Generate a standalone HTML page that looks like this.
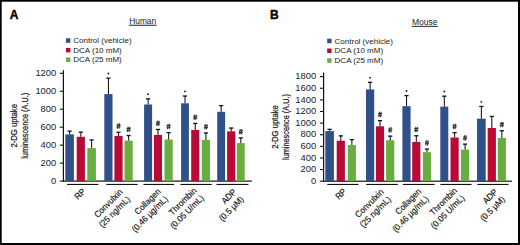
<!DOCTYPE html>
<html><head><meta charset="utf-8"><style>
html,body{margin:0;padding:0;background:#fff;width:520px;height:245px;overflow:hidden;}
svg{display:block;}
text{font-family:"Liberation Sans",sans-serif;}
</style></head><body>
<svg width="520" height="245" viewBox="0 0 520 245">
<rect width="520" height="245" fill="#fff"/>
<text x="9.8" y="19" font-size="12" font-weight="bold" fill="#000" stroke="#000" stroke-width="0.35">A</text>
<text x="129.2" y="24.2" font-size="8.4" fill="#222">Human</text>
<rect x="129" y="24.75" width="27.6" height="1" fill="#222"/>
<rect x="66" y="38.3" width="4.4" height="4.5" fill="#30508a"/>
<text x="73.3" y="43.2" font-size="8" fill="#222">Control (vehicle)</text>
<rect x="66" y="47.9" width="4.4" height="4.5" fill="#b90a35"/>
<text x="73.3" y="52.8" font-size="8" fill="#222">DCA (10 mM)</text>
<rect x="66" y="57.5" width="4.4" height="4.5" fill="#69ac3f"/>
<text x="73.3" y="62.4" font-size="8" fill="#222">DCA (25 mM)</text>
<rect x="62.8" y="70.2" width="1.2" height="111.5" fill="#111"/>
<rect x="59.8" y="180.55" width="3.6" height="1.1" fill="#111"/>
<text transform="translate(56.3,183.8) scale(1.08,1)" font-size="8.7" fill="#222" text-anchor="end">0</text>
<rect x="59.8" y="162.58" width="3.6" height="1.1" fill="#111"/>
<text transform="translate(56.3,165.83) scale(1.08,1)" font-size="8.7" fill="#222" text-anchor="end">200</text>
<rect x="59.8" y="144.61" width="3.6" height="1.1" fill="#111"/>
<text transform="translate(56.3,147.86) scale(1.08,1)" font-size="8.7" fill="#222" text-anchor="end">400</text>
<rect x="59.8" y="126.64" width="3.6" height="1.1" fill="#111"/>
<text transform="translate(56.3,129.89) scale(1.08,1)" font-size="8.7" fill="#222" text-anchor="end">600</text>
<rect x="59.8" y="108.67" width="3.6" height="1.1" fill="#111"/>
<text transform="translate(56.3,111.92) scale(1.08,1)" font-size="8.7" fill="#222" text-anchor="end">800</text>
<rect x="59.8" y="90.7" width="3.6" height="1.1" fill="#111"/>
<text transform="translate(56.3,93.95) scale(1.08,1)" font-size="8.7" fill="#222" text-anchor="end">1000</text>
<rect x="59.8" y="72.73" width="3.6" height="1.1" fill="#111"/>
<text transform="translate(56.3,75.98) scale(1.08,1)" font-size="8.7" fill="#222" text-anchor="end">1200</text>
<rect x="62.8" y="180.5" width="189" height="1.2" fill="#111"/>
<text transform="translate(16.7,125.8) rotate(-90)" font-size="8.4" fill="#111" stroke="#111" stroke-width="0.2" text-anchor="middle" textLength="43.5" lengthAdjust="spacingAndGlyphs">2-DG uptake</text>
<text transform="translate(28,125.8) rotate(-90)" font-size="8.4" fill="#111" stroke="#111" stroke-width="0.2" text-anchor="middle" textLength="66" lengthAdjust="spacingAndGlyphs">luminescence (A.U.)</text>
<rect x="65.3" y="134.4" width="8.6" height="46.7" fill="#30508a"/>
<rect x="69.1" y="131.1" width="1.05" height="3.3" fill="#111"/>
<rect x="67.5" y="130.5" width="4.2" height="1.3" fill="#111"/>
<rect x="76.7" y="136.8" width="8.2" height="44.3" fill="#b90a35"/>
<rect x="80.3" y="132.1" width="1.05" height="4.7" fill="#111"/>
<rect x="78.7" y="131.5" width="4.2" height="1.3" fill="#111"/>
<rect x="87.3" y="148.1" width="8.6" height="33" fill="#69ac3f"/>
<rect x="91.1" y="139.9" width="1.05" height="8.2" fill="#111"/>
<rect x="89.5" y="139.3" width="4.2" height="1.3" fill="#111"/>
<rect x="104.3" y="94.1" width="8.2" height="87" fill="#30508a"/>
<rect x="107.9" y="78.1" width="1.05" height="16" fill="#111"/>
<rect x="106.3" y="77.5" width="4.2" height="1.3" fill="#111"/>
<circle cx="108.4" cy="73.5" r="0.9" fill="#111"/>
<rect x="114.4" y="135.9" width="8.2" height="45.2" fill="#b90a35"/>
<rect x="118" y="132.2" width="1.05" height="3.7" fill="#111"/>
<rect x="116.4" y="131.6" width="4.2" height="1.3" fill="#111"/>
<path d="M118,123.4L117.4,128.7M119.6,123.4L119,128.7M116.5,125.1H120.6M116.4,126.9H120.5" stroke="#333" stroke-width="1.05" fill="none"/>
<rect x="124.5" y="140.6" width="8.2" height="40.5" fill="#69ac3f"/>
<rect x="128.1" y="135.5" width="1.05" height="5.1" fill="#111"/>
<rect x="126.5" y="134.9" width="4.2" height="1.3" fill="#111"/>
<path d="M128.1,126.7L127.5,132M129.7,126.7L129.1,132M126.6,128.4H130.7M126.5,130.2H130.6" stroke="#333" stroke-width="1.05" fill="none"/>
<rect x="144.1" y="104.5" width="8" height="76.6" fill="#30508a"/>
<rect x="147.6" y="98.8" width="1.05" height="5.7" fill="#111"/>
<rect x="146" y="98.2" width="4.2" height="1.3" fill="#111"/>
<circle cx="148.1" cy="94.2" r="0.9" fill="#111"/>
<rect x="153.9" y="134.9" width="8.1" height="46.2" fill="#b90a35"/>
<rect x="157.45" y="129.4" width="1.05" height="5.5" fill="#111"/>
<rect x="155.85" y="128.8" width="4.2" height="1.3" fill="#111"/>
<path d="M157.45,120.6L156.85,125.9M159.05,120.6L158.45,125.9M155.95,122.3H160.05M155.85,124.1H159.95" stroke="#333" stroke-width="1.05" fill="none"/>
<rect x="164.5" y="139.5" width="8.2" height="41.6" fill="#69ac3f"/>
<rect x="168.1" y="132.6" width="1.05" height="6.9" fill="#111"/>
<rect x="166.5" y="132" width="4.2" height="1.3" fill="#111"/>
<path d="M168.1,123.8L167.5,129.1M169.7,123.8L169.1,129.1M166.6,125.5H170.7M166.5,127.3H170.6" stroke="#333" stroke-width="1.05" fill="none"/>
<rect x="181.1" y="103.3" width="7.8" height="77.8" fill="#30508a"/>
<rect x="184.5" y="96" width="1.05" height="7.3" fill="#111"/>
<rect x="182.9" y="95.4" width="4.2" height="1.3" fill="#111"/>
<circle cx="185" cy="91.4" r="0.9" fill="#111"/>
<rect x="191.2" y="129.9" width="8.1" height="51.2" fill="#b90a35"/>
<rect x="194.75" y="123.4" width="1.05" height="6.5" fill="#111"/>
<rect x="193.15" y="122.8" width="4.2" height="1.3" fill="#111"/>
<path d="M194.75,114.6L194.15,119.9M196.35,114.6L195.75,119.9M193.25,116.3H197.35M193.15,118.1H197.25" stroke="#333" stroke-width="1.05" fill="none"/>
<rect x="201.8" y="139.9" width="8.3" height="41.2" fill="#69ac3f"/>
<rect x="205.45" y="132.9" width="1.05" height="7" fill="#111"/>
<rect x="203.85" y="132.3" width="4.2" height="1.3" fill="#111"/>
<path d="M205.45,124.1L204.85,129.4M207.05,124.1L206.45,129.4M203.95,125.8H208.05M203.85,127.6H207.95" stroke="#333" stroke-width="1.05" fill="none"/>
<rect x="217.2" y="111.8" width="7.9" height="69.3" fill="#30508a"/>
<rect x="220.65" y="105.6" width="1.05" height="6.2" fill="#111"/>
<rect x="219.05" y="105" width="4.2" height="1.3" fill="#111"/>
<rect x="227.1" y="131.3" width="8.2" height="49.8" fill="#b90a35"/>
<rect x="230.7" y="128" width="1.05" height="3.3" fill="#111"/>
<rect x="229.1" y="127.4" width="4.2" height="1.3" fill="#111"/>
<rect x="236.9" y="143.1" width="7.8" height="38" fill="#69ac3f"/>
<rect x="240.3" y="137.9" width="1.05" height="5.2" fill="#111"/>
<rect x="238.7" y="137.3" width="4.2" height="1.3" fill="#111"/>
<path d="M240.3,129.1L239.7,134.4M241.9,129.1L241.3,134.4M238.8,130.8H242.9M238.7,132.6H242.8" stroke="#333" stroke-width="1.05" fill="none"/>
<rect x="67" y="183.9" width="31.5" height="1.1" fill="#111"/>
<rect x="106.3" y="183.9" width="31.4" height="1.1" fill="#111"/>
<rect x="143.5" y="183.9" width="30.7" height="1.1" fill="#111"/>
<rect x="180.4" y="183.9" width="31.3" height="1.1" fill="#111"/>
<rect x="216.5" y="183.9" width="31.9" height="1.1" fill="#111"/>
<text transform="translate(86.05,192) rotate(-45) scale(0.94,1)" font-size="8.8" fill="#111" stroke="#111" stroke-width="0.15" text-anchor="end"><tspan x="0" y="0">RP</tspan></text>
<text transform="translate(123.3,192.5) rotate(-45) scale(0.94,1)" font-size="8.8" fill="#111" stroke="#111" stroke-width="0.15" text-anchor="end"><tspan x="0" y="0">Convulxin</tspan><tspan x="0" y="10.4">(25 ng/mL)</tspan></text>
<text transform="translate(161.15,192.1) rotate(-45) scale(0.94,1)" font-size="8.8" fill="#111" stroke="#111" stroke-width="0.15" text-anchor="end"><tspan x="0" y="0">Collagen</tspan><tspan x="0" y="10.4">(0.46 µg/mL)</tspan></text>
<text transform="translate(197.15,191.2) rotate(-45) scale(0.94,1)" font-size="8.8" fill="#111" stroke="#111" stroke-width="0.15" text-anchor="end"><tspan x="0" y="0">Thrombin</tspan><tspan x="0" y="10.4">(0.05 U/mL)</tspan></text>
<text transform="translate(236.95,192.5) rotate(-45) scale(0.94,1)" font-size="8.8" fill="#111" stroke="#111" stroke-width="0.15" text-anchor="end"><tspan x="0" y="0">ADP</tspan><tspan x="0" y="10.4">(0.5 µM)</tspan></text>
<text x="269.9" y="19.4" font-size="12" font-weight="bold" fill="#000" stroke="#000" stroke-width="0.35">B</text>
<text x="412" y="25.1" font-size="8.5" fill="#222">Mouse</text>
<rect x="411.8" y="25.85" width="26" height="1" fill="#222"/>
<rect x="327.2" y="38.7" width="4.4" height="4.5" fill="#30508a"/>
<text x="334.6" y="43.6" font-size="8" fill="#222">Control (vehicle)</text>
<rect x="327.2" y="48.5" width="4.4" height="4.5" fill="#b90a35"/>
<text x="334.6" y="53.4" font-size="8" fill="#222">DCA (10 mM)</text>
<rect x="327.2" y="58.3" width="4.4" height="4.5" fill="#69ac3f"/>
<text x="334.6" y="63.2" font-size="8" fill="#222">DCA (25 mM)</text>
<rect x="323" y="72.6" width="1.2" height="109.2" fill="#111"/>
<rect x="320" y="180.65" width="3.6" height="1.1" fill="#111"/>
<text transform="translate(316.2,183.9) scale(1.08,1)" font-size="8.7" fill="#222" text-anchor="end">0</text>
<rect x="320" y="169.03" width="3.6" height="1.1" fill="#111"/>
<text transform="translate(316.2,172.28) scale(1.08,1)" font-size="8.7" fill="#222" text-anchor="end">200</text>
<rect x="320" y="157.41" width="3.6" height="1.1" fill="#111"/>
<text transform="translate(316.2,160.66) scale(1.08,1)" font-size="8.7" fill="#222" text-anchor="end">400</text>
<rect x="320" y="145.79" width="3.6" height="1.1" fill="#111"/>
<text transform="translate(316.2,149.04) scale(1.08,1)" font-size="8.7" fill="#222" text-anchor="end">600</text>
<rect x="320" y="134.17" width="3.6" height="1.1" fill="#111"/>
<text transform="translate(316.2,137.42) scale(1.08,1)" font-size="8.7" fill="#222" text-anchor="end">800</text>
<rect x="320" y="122.55" width="3.6" height="1.1" fill="#111"/>
<text transform="translate(316.2,125.8) scale(1.08,1)" font-size="8.7" fill="#222" text-anchor="end">1000</text>
<rect x="320" y="110.93" width="3.6" height="1.1" fill="#111"/>
<text transform="translate(316.2,114.18) scale(1.08,1)" font-size="8.7" fill="#222" text-anchor="end">1200</text>
<rect x="320" y="99.31" width="3.6" height="1.1" fill="#111"/>
<text transform="translate(316.2,102.56) scale(1.08,1)" font-size="8.7" fill="#222" text-anchor="end">1400</text>
<rect x="320" y="87.69" width="3.6" height="1.1" fill="#111"/>
<text transform="translate(316.2,90.94) scale(1.08,1)" font-size="8.7" fill="#222" text-anchor="end">1600</text>
<rect x="320" y="76.07" width="3.6" height="1.1" fill="#111"/>
<text transform="translate(316.2,79.32) scale(1.08,1)" font-size="8.7" fill="#222" text-anchor="end">1800</text>
<rect x="322.8" y="180.6" width="189.2" height="1.2" fill="#111"/>
<text transform="translate(277.6,127) rotate(-90)" font-size="8.4" fill="#111" stroke="#111" stroke-width="0.2" text-anchor="middle" textLength="43.5" lengthAdjust="spacingAndGlyphs">2-DG uptake</text>
<text transform="translate(288.5,127) rotate(-90)" font-size="8.4" fill="#111" stroke="#111" stroke-width="0.2" text-anchor="middle" textLength="66" lengthAdjust="spacingAndGlyphs">luminescence (A.U.)</text>
<rect x="325.3" y="131.1" width="8.6" height="50.1" fill="#30508a"/>
<rect x="329.1" y="129.3" width="1.05" height="1.8" fill="#111"/>
<rect x="327.5" y="128.7" width="4.2" height="1.3" fill="#111"/>
<rect x="336.7" y="140.7" width="8.2" height="40.5" fill="#b90a35"/>
<rect x="340.3" y="135.8" width="1.05" height="4.9" fill="#111"/>
<rect x="338.7" y="135.2" width="4.2" height="1.3" fill="#111"/>
<rect x="347.8" y="145" width="8.1" height="36.2" fill="#69ac3f"/>
<rect x="351.35" y="139.6" width="1.05" height="5.4" fill="#111"/>
<rect x="349.75" y="139" width="4.2" height="1.3" fill="#111"/>
<rect x="366" y="89.4" width="8.2" height="91.8" fill="#30508a"/>
<rect x="369.6" y="82.3" width="1.05" height="7.1" fill="#111"/>
<rect x="368" y="81.7" width="4.2" height="1.3" fill="#111"/>
<circle cx="370.1" cy="77.7" r="0.9" fill="#111"/>
<rect x="375.9" y="126.3" width="8.2" height="54.9" fill="#b90a35"/>
<rect x="379.5" y="120.6" width="1.05" height="5.7" fill="#111"/>
<rect x="377.9" y="120" width="4.2" height="1.3" fill="#111"/>
<path d="M379.5,111.8L378.9,117.1M381.1,111.8L380.5,117.1M378,113.5H382.1M377.9,115.3H382" stroke="#333" stroke-width="1.05" fill="none"/>
<rect x="386.1" y="140.2" width="8.2" height="41" fill="#69ac3f"/>
<rect x="389.7" y="136.1" width="1.05" height="4.1" fill="#111"/>
<rect x="388.1" y="135.5" width="4.2" height="1.3" fill="#111"/>
<path d="M389.7,127.3L389.1,132.6M391.3,127.3L390.7,132.6M388.2,129H392.3M388.1,130.8H392.2" stroke="#333" stroke-width="1.05" fill="none"/>
<rect x="402.4" y="106.2" width="8.2" height="75" fill="#30508a"/>
<rect x="406" y="95.6" width="1.05" height="10.6" fill="#111"/>
<rect x="404.4" y="95" width="4.2" height="1.3" fill="#111"/>
<circle cx="406.5" cy="91" r="0.9" fill="#111"/>
<rect x="412.2" y="141.9" width="8.2" height="39.3" fill="#b90a35"/>
<rect x="415.8" y="135.7" width="1.05" height="6.2" fill="#111"/>
<rect x="414.2" y="135.1" width="4.2" height="1.3" fill="#111"/>
<path d="M415.8,126.9L415.2,132.2M417.4,126.9L416.8,132.2M414.3,128.6H418.4M414.2,130.4H418.3" stroke="#333" stroke-width="1.05" fill="none"/>
<rect x="422.9" y="152.2" width="8.1" height="29" fill="#69ac3f"/>
<rect x="426.45" y="149" width="1.05" height="3.2" fill="#111"/>
<rect x="424.85" y="148.4" width="4.2" height="1.3" fill="#111"/>
<path d="M426.45,140.2L425.85,145.5M428.05,140.2L427.45,145.5M424.95,141.9H429.05M424.85,143.7H428.95" stroke="#333" stroke-width="1.05" fill="none"/>
<rect x="440.3" y="106.6" width="8" height="74.6" fill="#30508a"/>
<rect x="443.8" y="96.1" width="1.05" height="10.5" fill="#111"/>
<rect x="442.2" y="95.5" width="4.2" height="1.3" fill="#111"/>
<circle cx="444.3" cy="91.5" r="0.9" fill="#111"/>
<rect x="450.5" y="137.5" width="8.2" height="43.7" fill="#b90a35"/>
<rect x="454.1" y="132.6" width="1.05" height="4.9" fill="#111"/>
<rect x="452.5" y="132" width="4.2" height="1.3" fill="#111"/>
<path d="M454.1,123.8L453.5,129.1M455.7,123.8L455.1,129.1M452.6,125.5H456.7M452.5,127.3H456.6" stroke="#333" stroke-width="1.05" fill="none"/>
<rect x="461" y="149.6" width="8.1" height="31.6" fill="#69ac3f"/>
<rect x="464.55" y="144.1" width="1.05" height="5.5" fill="#111"/>
<rect x="462.95" y="143.5" width="4.2" height="1.3" fill="#111"/>
<path d="M464.55,135.3L463.95,140.6M466.15,135.3L465.55,140.6M463.05,137H467.15M462.95,138.8H467.05" stroke="#333" stroke-width="1.05" fill="none"/>
<rect x="477" y="118.7" width="8.7" height="62.5" fill="#30508a"/>
<rect x="480.85" y="106.4" width="1.05" height="12.3" fill="#111"/>
<rect x="479.25" y="105.8" width="4.2" height="1.3" fill="#111"/>
<circle cx="481.35" cy="101.8" r="0.9" fill="#111"/>
<rect x="487.7" y="128" width="8.2" height="53.2" fill="#b90a35"/>
<rect x="491.3" y="116.4" width="1.05" height="11.6" fill="#111"/>
<rect x="489.7" y="115.8" width="4.2" height="1.3" fill="#111"/>
<rect x="497.8" y="137.9" width="8.1" height="43.3" fill="#69ac3f"/>
<rect x="501.35" y="130.7" width="1.05" height="7.2" fill="#111"/>
<rect x="499.75" y="130.1" width="4.2" height="1.3" fill="#111"/>
<path d="M501.35,121.9L500.75,127.2M502.95,121.9L502.35,127.2M499.85,123.6H503.95M499.75,125.4H503.85" stroke="#333" stroke-width="1.05" fill="none"/>
<rect x="327.3" y="183.9" width="31.2" height="1.1" fill="#111"/>
<rect x="366.2" y="183.9" width="31.7" height="1.1" fill="#111"/>
<rect x="402.8" y="183.9" width="31.8" height="1.1" fill="#111"/>
<rect x="440.4" y="183.9" width="31.1" height="1.1" fill="#111"/>
<rect x="477.3" y="183.9" width="31.2" height="1.1" fill="#111"/>
<text transform="translate(347,192) rotate(-45) scale(0.94,1)" font-size="8.8" fill="#111" stroke="#111" stroke-width="0.15" text-anchor="end"><tspan x="0" y="0">RP</tspan></text>
<text transform="translate(384.15,192.5) rotate(-45) scale(0.94,1)" font-size="8.8" fill="#111" stroke="#111" stroke-width="0.15" text-anchor="end"><tspan x="0" y="0">Convulxin</tspan><tspan x="0" y="10.4">(25 ng/mL)</tspan></text>
<text transform="translate(421.8,192.1) rotate(-45) scale(0.94,1)" font-size="8.8" fill="#111" stroke="#111" stroke-width="0.15" text-anchor="end"><tspan x="0" y="0">Collagen</tspan><tspan x="0" y="10.4">(0.46 µg/mL)</tspan></text>
<text transform="translate(457.85,191.2) rotate(-45) scale(0.94,1)" font-size="8.8" fill="#111" stroke="#111" stroke-width="0.15" text-anchor="end"><tspan x="0" y="0">Thrombin</tspan><tspan x="0" y="10.4">(0.05 U/mL)</tspan></text>
<text transform="translate(498.2,192.5) rotate(-45) scale(0.94,1)" font-size="8.8" fill="#111" stroke="#111" stroke-width="0.15" text-anchor="end"><tspan x="0" y="0">ADP</tspan><tspan x="0" y="10.4">(0.5 µM)</tspan></text>
<rect x="0" y="0" width="1.7" height="245" fill="#000"/><rect x="0" y="0" width="520" height="1.7" fill="#000"/><rect x="518" y="0" width="2" height="245" fill="#000"/><rect x="0" y="243" width="520" height="2" fill="#000"/>
</svg>
</body></html>
